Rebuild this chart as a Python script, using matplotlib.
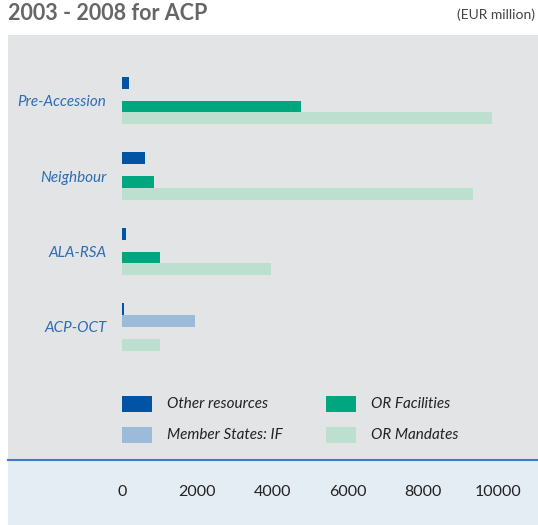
import matplotlib

matplotlib.use("Agg")
import matplotlib.pyplot as plt
from matplotlib.patches import Rectangle
import numpy as np

plt.rcParams["font.family"] = ["Lato", "DejaVu Sans"]

# Data (EUR million)
categories = ["Pre-Accession", "Neighbour", "ALA-RSA", "ACP-OCT"]
series_names = ["Other resources", "Member States: IF", "OR Facilities", "OR Mandates"]
other_resources = [190, 610, 100, 45]
member_states_if = [0, 0, 0, 1930]
or_facilities = [4770, 850, 1000, 0]
or_mandates = [9840, 9330, 3950, 1000]
xticks = [0, 2000, 4000, 6000, 8000, 10000]

colors = ["#0054a4", "#9bbbd9", "#00a77e", "#bddfcf"]
series = [other_resources, member_states_if, or_facilities, or_mandates]

W, H = 538, 525
fig = plt.figure(figsize=(W / 100, H / 100), dpi=100)
fig.patch.set_facecolor("white")

# Light blue band under the chart (tick label area)
fig.add_artist(Rectangle((8 / W, 0), 530 / W, 65 / H, transform=fig.transFigure,
                         facecolor="#e4ecf4", edgecolor="none", zorder=0))

ax = fig.add_axes([8 / W, 65 / H, 530 / W, 425 / H])
ax.set_facecolor("#e3e4e6")

bar_h = 0.156
y = np.arange(len(categories))
for k, (vals, col) in enumerate(zip(series, colors)):
    ax.barh(y + (k - 1.5) * bar_h, vals, height=bar_h, color=col, align="center", zorder=3)

ax.set_xlim(-3032, 11064)
ax.set_ylim(4.762, -0.868)

for name, spine in ax.spines.items():
    spine.set_visible(name == "bottom")
ax.spines["bottom"].set_color("#3e7dc0")
ax.spines["bottom"].set_linewidth(1.5)

ax.set_xticks(xticks)
ax.set_xticklabels([str(t) for t in xticks])
ax.tick_params(axis="x", length=0, pad=18, labelsize=11.5, labelcolor="#222222")

ax.set_yticks(y)
ax.set_yticklabels(categories, fontstyle="italic")
ax.tick_params(axis="y", length=0, pad=-71, labelsize=11, labelcolor="#2e6db4")

# Legend (manual layout, two columns)
leg_pos = [(122, 396), (122, 427), (326, 396), (326, 427)]
for (lx, ly), name, col in zip(leg_pos, series_names, colors):
    fig.add_artist(Rectangle((lx / W, 1 - (ly + 16) / H), 30 / W, 16 / H,
                             transform=fig.transFigure, facecolor=col, edgecolor="none"))
    fig.text((lx + 45) / W, 1 - (ly + 8) / H, name, ha="left", va="center",
             fontsize=11, fontstyle="italic", color="#222222")

fig.text(8 / W, 1 - 14 / H, "2003 - 2008 for ACP", ha="left", va="center",
         fontsize=15.5, fontweight="bold", color="#666666")
fig.text(535 / W, 1 - 15 / H, "(EUR million)", ha="right", va="center",
         fontsize=10, color="#444444")

fig.savefig("out.png", dpi=100)
